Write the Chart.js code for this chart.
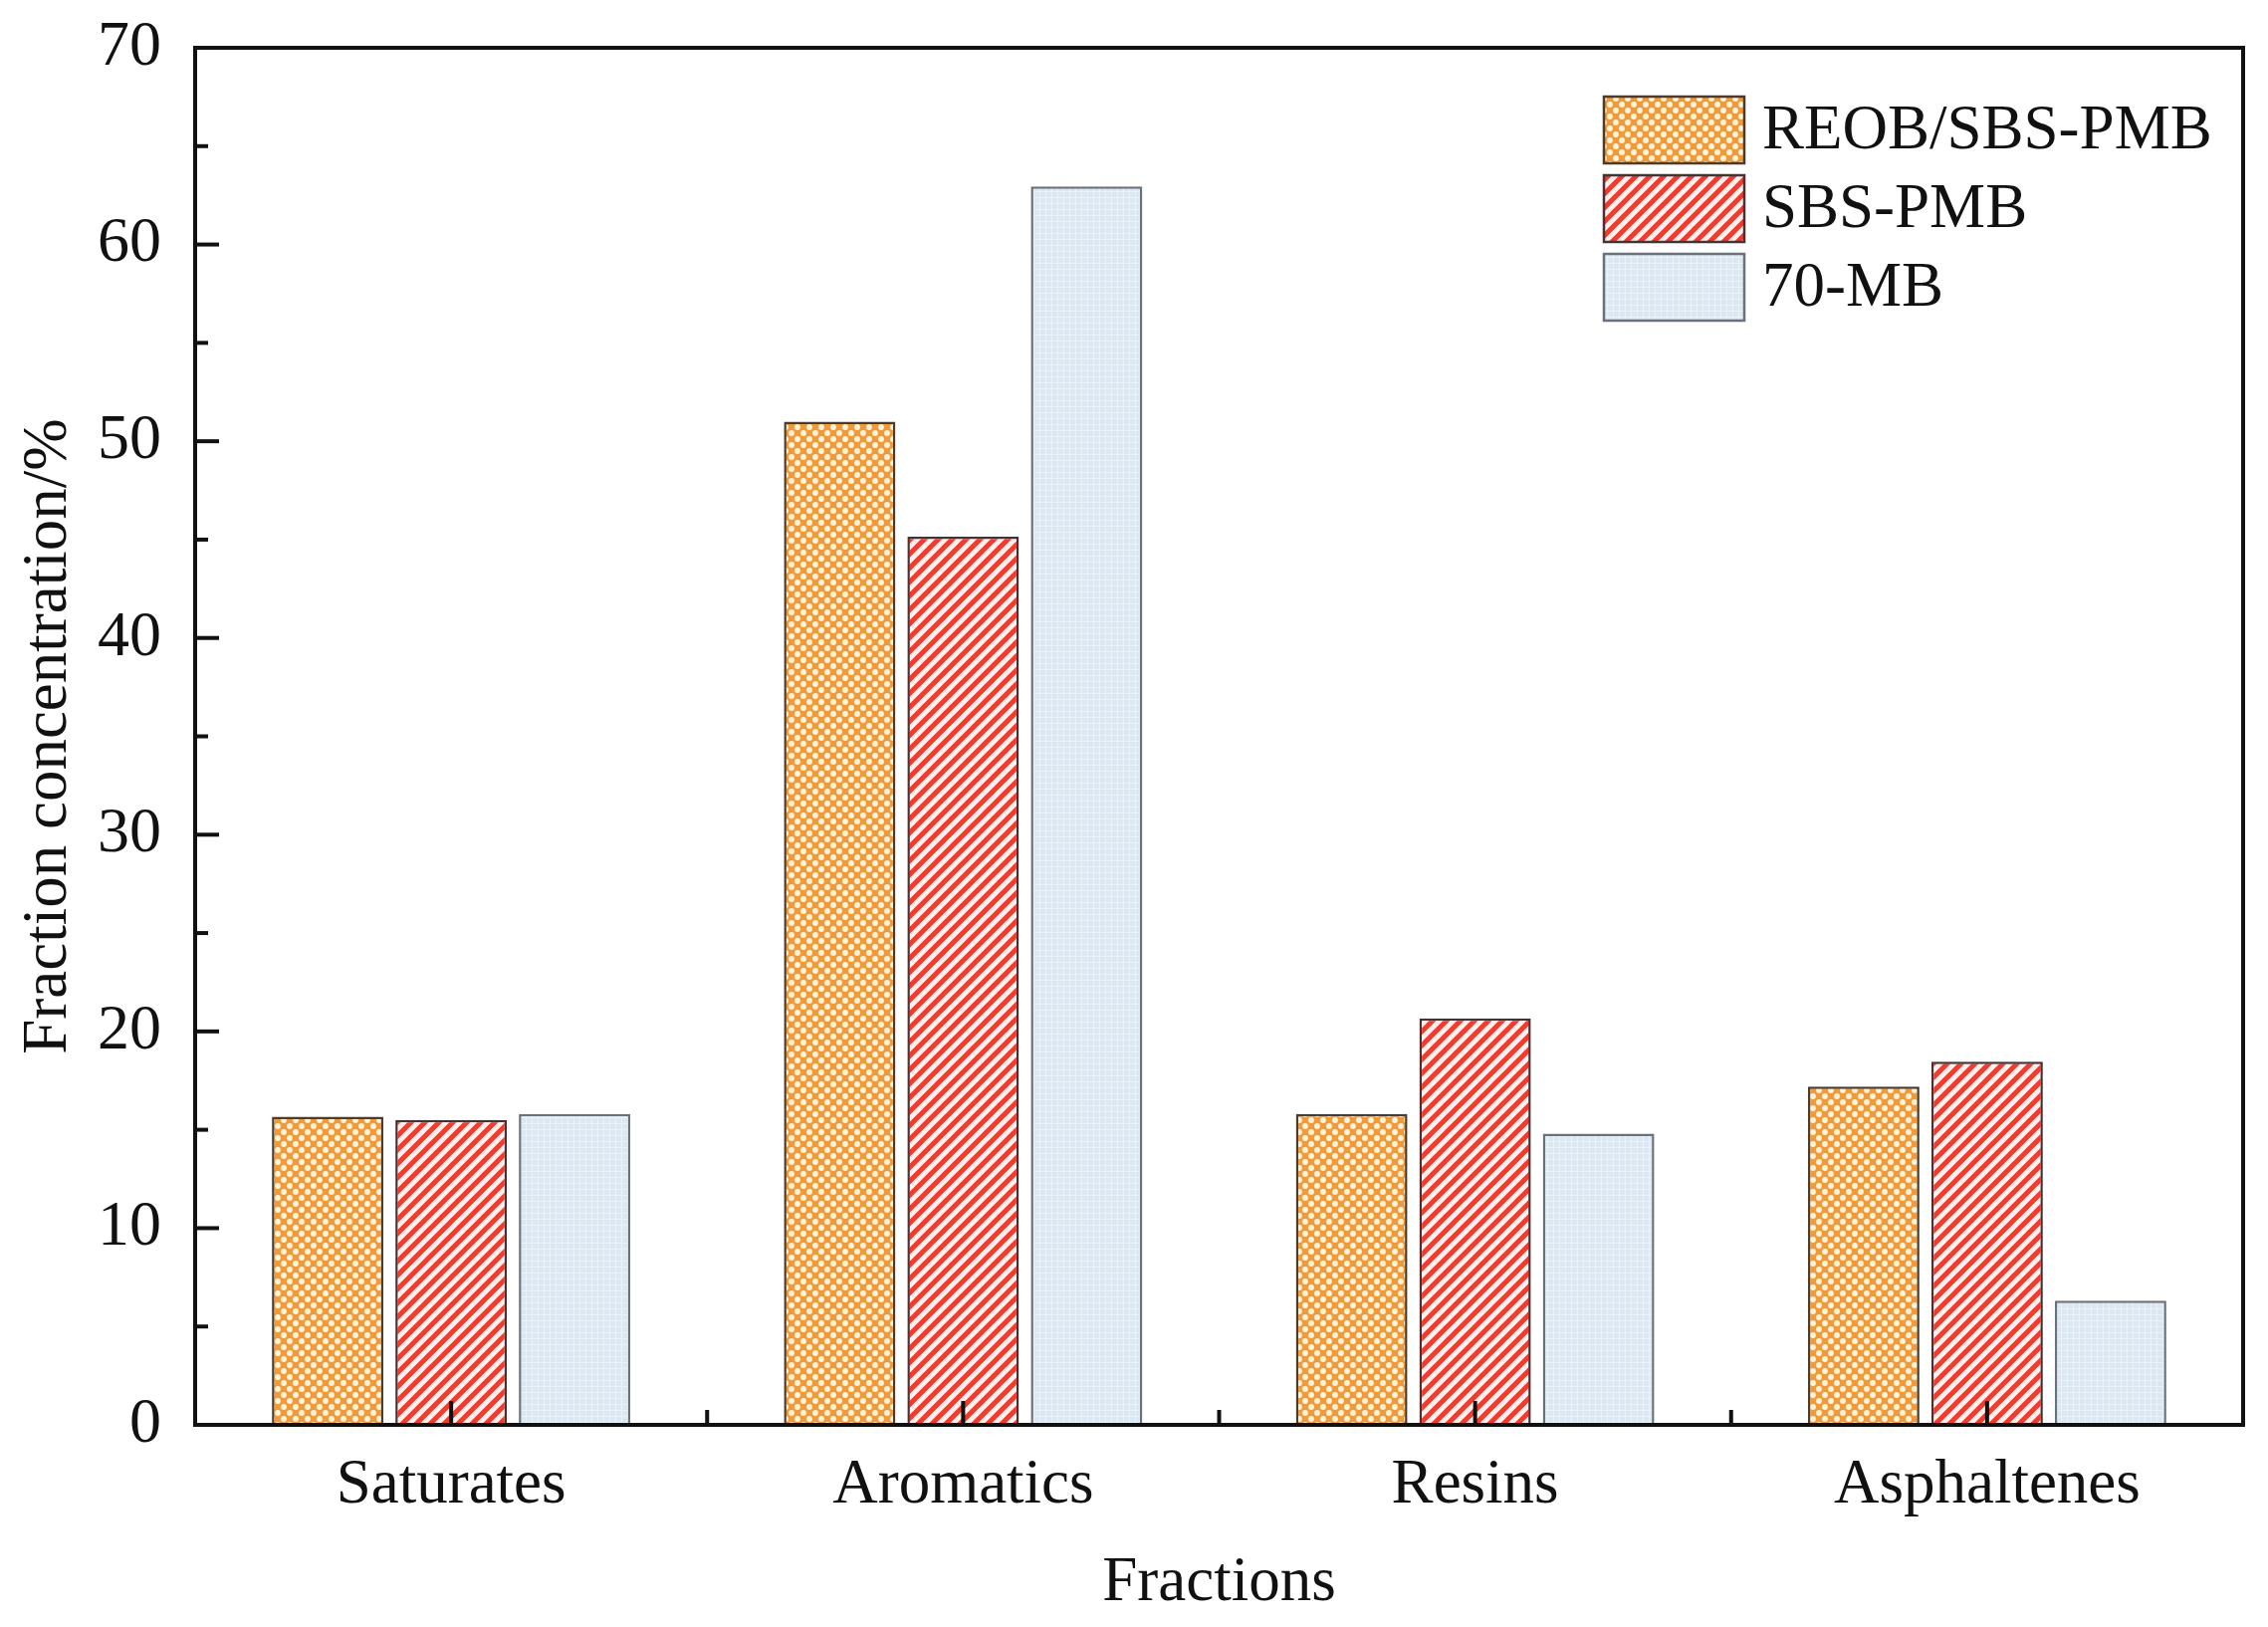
<!DOCTYPE html>
<html>
<head>
<meta charset="utf-8">
<title>Fraction concentration</title>
<script src="https://cdn.jsdelivr.net/npm/chart.js@4.4.1/dist/chart.umd.min.js"></script>
<style>
  html, body { margin: 0; padding: 0; background: #fff; overflow: hidden; }
  canvas { display: block; }
</style>
</head>
<body>
<canvas id="fractionChart" width="2278" height="1634"></canvas>
<script>
// Data
const categories = ["Saturates", "Aromatics", "Resins", "Asphaltenes"];
const seriesLabels = ["REOB/SBS-PMB", "SBS-PMB", "70-MB"];
const reobSbsPmb = [15.66, 51.0, 15.8, 17.2];
const sbsPmb = [15.5, 45.15, 20.66, 18.46];
const mb70 = [15.8, 62.95, 14.8, 6.32];
const yTicks = [0, 10, 20, 30, 40, 50, 60, 70];

const FONT = "'Liberation Serif', 'Times New Roman', serif";

// Fill patterns
function dotPattern() {
  const c = document.createElement("canvas");
  c.width = 12;
  c.height = 12;
  const g = c.getContext("2d");
  g.fillStyle = "#f09a3c";
  g.fillRect(0, 0, 12, 12);
  g.fillStyle = "#fff3d8";
  [[3, 3], [9, 9]].forEach(([x, y]) => {
    g.beginPath();
    g.arc(x, y, 2.9, 0, Math.PI * 2);
    g.fill();
  });
  return g.createPattern(c, "repeat");
}

function stripePattern() {
  const c = document.createElement("canvas");
  c.width = 14;
  c.height = 14;
  const g = c.getContext("2d");
  g.fillStyle = "#fff2ee";
  g.fillRect(0, 0, 14, 14);
  g.strokeStyle = "#ef3c30";
  g.lineWidth = 5;
  g.beginPath();
  g.moveTo(-2, 16); g.lineTo(16, -2);
  g.moveTo(-9, 9); g.lineTo(9, -9);
  g.moveTo(5, 23); g.lineTo(23, 5);
  g.stroke();
  return g.createPattern(c, "repeat");
}

function gridPattern() {
  const c = document.createElement("canvas");
  c.width = 6;
  c.height = 6;
  const g = c.getContext("2d");
  g.fillStyle = "#dbe8f4";
  g.fillRect(0, 0, 6, 6);
  g.fillStyle = "#eaf2fa";
  g.fillRect(0, 0, 6, 1);
  g.fillRect(0, 0, 1, 6);
  return g.createPattern(c, "repeat");
}

const fills = [dotPattern(), stripePattern(), gridPattern()];
const borders = ["#4a3b30", "#4a3032", "#6b7178"];

// Frame, inward ticks and in-plot legend
const framePlugin = {
  id: "frame",
  afterDatasetsDraw(chart) {
    const { ctx, chartArea: a } = chart;
    const x = chart.scales.x;
    const y = chart.scales.y;
    ctx.save();
    ctx.strokeStyle = "#111";
    ctx.lineWidth = 4;
    ctx.lineCap = "butt";

    // y ticks (major + minor)
    yTicks.forEach((v) => {
      const py = y.getPixelForValue(v);
      ctx.beginPath();
      ctx.moveTo(a.left, py);
      ctx.lineTo(a.left + 24, py);
      ctx.stroke();
      if (v < 70) {
        const pm = y.getPixelForValue(v + 5);
        ctx.beginPath();
        ctx.moveTo(a.left, pm);
        ctx.lineTo(a.left + 13, pm);
        ctx.stroke();
      }
    });

    // x ticks at category centres and minor ticks between them
    categories.forEach((c, i) => {
      const px = x.getPixelForValue(i);
      ctx.beginPath();
      ctx.moveTo(px, a.bottom);
      ctx.lineTo(px, a.bottom - 24);
      ctx.stroke();
      if (i < categories.length - 1) {
        const pm = (px + x.getPixelForValue(i + 1)) / 2;
        ctx.beginPath();
        ctx.moveTo(pm, a.bottom);
        ctx.lineTo(pm, a.bottom - 15);
        ctx.stroke();
      }
    });

    ctx.strokeRect(a.left, a.top, a.right - a.left, a.bottom - a.top);

    // legend
    const boxX = 1611, boxW = 141, boxH = 67, rowH = 79, top0 = 97;
    ctx.font = "63px " + FONT;
    ctx.textBaseline = "middle";
    ctx.textAlign = "left";
    chart.data.datasets.forEach((ds, i) => {
      const by = top0 + i * rowH;
      ctx.fillStyle = ds.backgroundColor;
      ctx.fillRect(boxX, by, boxW, boxH);
      ctx.lineWidth = 2.5;
      ctx.strokeStyle = ds.borderColor;
      ctx.strokeRect(boxX, by, boxW, boxH);
      ctx.fillStyle = "#111";
      ctx.fillText(ds.label, boxX + boxW + 18, by + boxH / 2 + 2);
    });
    ctx.restore();
  },
};

const seriesValues = [reobSbsPmb, sbsPmb, mb70];

new Chart(document.getElementById("fractionChart"), {
  type: "bar",
  data: {
    labels: categories,
    datasets: seriesLabels.map((label, i) => ({
      label: label,
      data: seriesValues[i],
      backgroundColor: fills[i],
      borderColor: borders[i],
      borderWidth: 2.5,
      categoryPercentage: 0.7234,
      barPercentage: 0.903,
    })),
  },
  options: {
    responsive: false,
    animation: false,
    devicePixelRatio: 1,
    layout: { padding: { left: 0, right: 25, top: 48, bottom: 0 } },
    plugins: {
      legend: { display: false },
      tooltip: { enabled: false },
    },
    scales: {
      x: {
        grid: { display: false, drawTicks: false },
        border: { display: false },
        ticks: {
          color: "#111",
          padding: 24,
          font: { family: FONT, size: 63 },
        },
        title: {
          display: true,
          text: "Fractions",
          color: "#111",
          font: { family: FONT, size: 63 },
          padding: { top: 0, bottom: 6 },
        },
        afterFit(scale) {
          scale.height = 203;
        },
      },
      y: {
        min: 0,
        max: 70,
        grid: { display: false, drawTicks: false },
        border: { display: false },
        ticks: {
          stepSize: 10,
          color: "#111",
          padding: 34,
          font: { family: FONT, size: 64 },
        },
        title: {
          display: true,
          text: "Fraction concentration/%",
          color: "#111",
          font: { family: FONT, size: 63 },
          padding: { top: 12, bottom: 0 },
        },
        afterFit(scale) {
          scale.width = 196;
          // the top label may overflow into the margin, as in the figure
          scale.paddingTop = 0;
          scale.paddingBottom = 0;
        },
      },
    },
  },
  plugins: [framePlugin],
});
</script>
</body>
</html>
